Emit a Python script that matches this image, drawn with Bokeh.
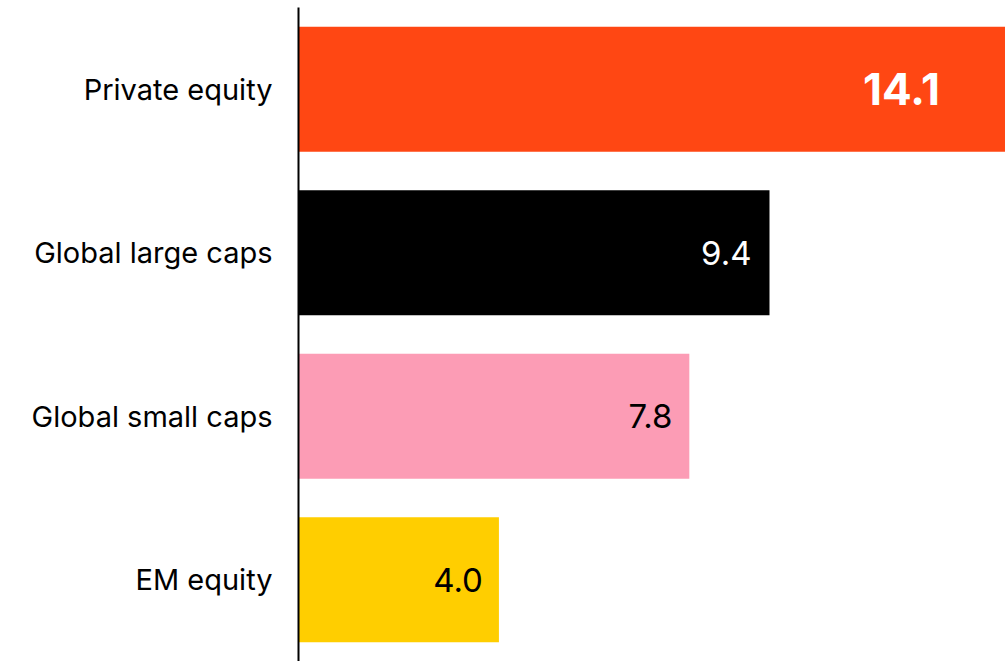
from bokeh.plotting import figure
from bokeh.models import ColumnDataSource, Range1d, FactorRange
from bokeh.core.properties import value
from bokeh.embed import file_html
from bokeh.resources import INLINE

categories = ["Private equity", "Global large caps", "Global small caps", "EM equity"]
values = [14.1, 9.4, 7.8, 4.0]
labels = ["14.1", "9.4", "7.8", "4.0"]
colors = ["#FF4713", "#000000", "#FC9CB5", "#FFCE00"]
label_colors = ["#FFFFFF", "#FFFFFF", "#000000", "#000000"]
label_weights = ["bold", "normal", "normal", "normal"]
label_sizes = ["44px", "33px", "33px", "33px"]
label_offsets = [-65, -18, -17, -16]

FONT = "Inter"

src = ColumnDataSource(dict(cat=categories, val=values, lab=labels, col=colors,
                            lcol=label_colors, lw=label_weights, fs=label_sizes, off=label_offsets))

p = figure(width=1007, height=661, y_range=FactorRange(factors=categories[::-1]),
           x_range=Range1d(0, 14.15), output_backend="svg", toolbar_location=None,
           min_border_left=298, min_border_right=0, min_border_top=7, min_border_bottom=0)

p.hbar(y="cat", right="val", left=0, height=0.765, fill_color="col", line_color=None, source=src)
p.text(x="val", y="cat", text="lab", x_offset="off", text_align="right", text_baseline="middle",
       text_color="lcol", text_font_style="lw", text_font=value(FONT), text_font_size="fs", source=src)

p.xaxis.visible = False
p.xgrid.visible = False
p.ygrid.visible = False
p.outline_line_color = None
p.yaxis.axis_line_width = 2
p.yaxis.axis_line_color = "#000000"
p.yaxis.major_tick_line_color = None
p.yaxis.minor_tick_line_color = None
p.yaxis.major_label_text_font = FONT
p.yaxis.major_label_text_font_size = "29px"
p.yaxis.major_label_text_color = "#000000"
p.yaxis.major_label_standoff = 20

open("out.html", "w").write(file_html(p, INLINE))
